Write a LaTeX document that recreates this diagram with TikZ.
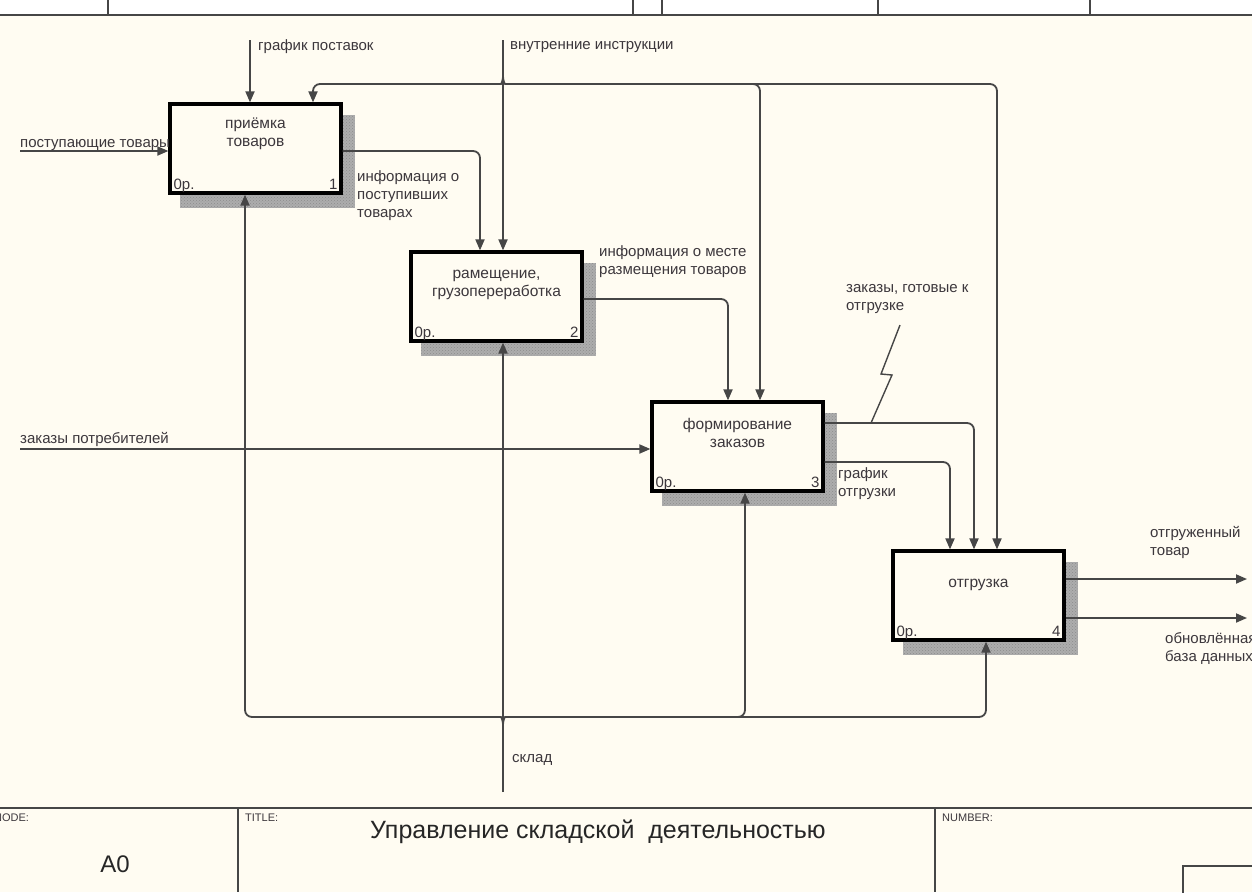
\documentclass[tikz,border=0pt]{standalone}
\usepackage{fontspec}
\setmainfont{Liberation Sans}
\usetikzlibrary{arrows.meta,calc,backgrounds,patterns}
\definecolor{bg}{RGB}{255,252,242}
\definecolor{ln}{RGB}{70,70,70}
\definecolor{tx}{RGB}{60,55,60}
\begin{document}
\begin{tikzpicture}[x=1pt,y=-1pt,
  box/.style={draw=black, line width=3.2pt, fill=bg, minimum width=171pt, minimum height=89pt, inner sep=0pt},
  con/.style={draw=ln, line width=1.8pt, rounded corners=7pt},
  arr/.style={con, -{Triangle[length=11pt,width=9pt]}},
  lbl/.style={font=\fontsize{15}{18}\selectfont, text=tx, inner sep=0pt, align=left},
  boxlbl/.style={font=\fontsize{15.5}{18}\selectfont, text=tx, inner sep=0pt, align=center},
  corner/.style={font=\fontsize{15}{16}\selectfont, text=tx, inner sep=0pt},
  small/.style={font=\fontsize{11}{12}\selectfont, text=tx, inner sep=0pt},
  frame/.style={draw=ln, line width=2pt}
]
\clip (0,0) rectangle (1252,892);
\useasboundingbox (0,0) rectangle (1252,892);

% boxes
\node[box] (b1) at (255.5,148.5) {};
\node[box] (b2) at (496.5,296.5) {};
\node[box] (b3) at (737.5,446.5) {};
\node[box] (b4) at (978.5,595.5) {};

\begin{pgfonlayer}{background}
  \fill[white] (0,0) rectangle (1252,892);
  \fill[bg] (0,15) rectangle (1252,892);
  \foreach \b in {b1,b2,b3,b4}{
    \fill[black!32] ($(\b.north west)+(12,13)$) rectangle ($(\b.south east)+(12,13)$);
    \fill[pattern=crosshatch dots, pattern color=black!45] ($(\b.north west)+(12,13)$) rectangle ($(\b.south east)+(12,13)$);
  }
\end{pgfonlayer}

% box texts
\node[boxlbl] (t1) at ($(b1.north)+(0,31)$) {приёмка\\товаров};
\node[boxlbl] (t2) at ($(b2.north)+(0,35)$) {рамещение,\\грузопереработка};
\node[boxlbl] (t3) at ($(b3.north)+(0,33)$) {формирование\\заказов};
\node[boxlbl] (t4) at ($(b4.north)+(0,36)$) {отгрузка};
\foreach \b/\n in {b1/1,b2/2,b3/3,b4/4}{
  \node[corner, anchor=base west] (z\b) at ($(\b.south west)+(5,-5)$) {0р.};
  \node[corner, anchor=base east] (n\b) at ($(\b.south east)+(-5,-5)$) {\n};
}

% frame top
\draw[frame] (0,15) -- (1252,15);
\foreach \x in {108,633,662,878,1090} \draw[frame] (\x,0) -- (\x,15);

% coordinates
\coordinate (in1) at (20,151);
\coordinate (gp) at (250,40);
\coordinate (vi) at (503,40);
\coordinate (jl) at (503,75);
\coordinate (c1) at (313,84);
\coordinate (c3) at (760,84);
\coordinate (c3s) at (745,84);
\coordinate (c4) at (997,84);
\coordinate (o1) at (480,151);
\coordinate (o2) at (728,299);
\coordinate (in3) at (20,449);
\coordinate (o3a) at (974,423);
\coordinate (o3b) at (950,462);
\coordinate (o4a) at (1247,579);
\coordinate (o4b) at (1247,618);
\coordinate (sk) at (503,792);
\coordinate (jb) at (503,726);
\coordinate (m1) at (245,717);
\coordinate (m3) at (745,717);
\coordinate (m3s) at (730,717);
\coordinate (m4) at (986,717);

% inputs
\draw[arr] (in1) -- (in1 -| b1.west);
\draw[arr] (in3) -- (in3 -| b3.west);

% controls
\draw[arr] (gp) -- (gp |- b1.north);
\draw[arr] (vi) -- (vi |- b2.north);
\draw[arr] (jl) .. controls (503,82) and (501,84) .. (494,84) -- (c1) -- (c1 |- b1.north);
\draw[arr] (jl) .. controls (503,82) and (505,84) .. (512,84) -- (c4) -- (c4 |- b4.north);
\draw[arr] (c3s) -- (c3) -- (c3 |- b3.north);

% outputs
\draw[arr] (in1 -| b1.east) -- (o1) -- (o1 |- b2.north);
\draw[arr] (o2 -| b2.east) -- (o2) -- (o2 |- b3.north);
\draw[arr] (o3a -| b3.east) -- (o3a) -- (o3a |- b4.north);
\draw[arr] (o3b -| b3.east) -- (o3b) -- (o3b |- b4.north);
\draw[arr] (o4a -| b4.east) -- (o4a);
\draw[arr] (o4b -| b4.east) -- (o4b);

% mechanisms
\draw[arr] (sk) -- (sk |- b2.south);
\draw[arr] (jb) .. controls (503,719) and (501,717) .. (494,717) -- (m1) -- (m1 |- b1.south);
\draw[arr] (jb) .. controls (503,719) and (505,717) .. (512,717) -- (m4) -- (m4 |- b4.south);
\draw[arr] (m3s) -- (m3) -- (m3 |- b3.south);

% squiggle
\coordinate (sq1) at (900,325);
\coordinate (sq2) at (881,374);
\coordinate (sq3) at (892,375);
\coordinate (sq4) at (871,423);
\draw[draw=ln, line width=1.4pt] (sq1) -- (sq2) -- (sq3) -- (sq4);

% labels
\node[lbl, anchor=base west] (l1) at (20,147) {поступающие товары};
\node[lbl, anchor=west] (l2) at (258,47) {график поставок};
\node[lbl, anchor=west] (l3) at (510,47) {внутренние инструкции};
\node[lbl, anchor=north west] (l4) at (357,170) {информация о\\поступивших\\товарах};
\node[lbl, anchor=north west] (l5) at (599,245) {информация о месте\\размещения товаров};
\node[lbl, anchor=north west] (l6) at (846,284) {заказы, готовые к\\отгрузке};
\node[lbl, anchor=north west] (l7) at (838,467) {график\\отгрузки};
\node[lbl, anchor=north west] (l8) at (1150,526) {отгруженный\\товар};
\node[lbl, anchor=north west] (l9) at (1165,632) {обновлённая\\база данных};
\node[lbl, anchor=base west] (l10) at (20,443) {заказы потребителей};
\node[lbl, anchor=west] (l11) at (512,760) {склад};

% title block
\draw[frame] (0,808) -- (1252,808);
\draw[frame] (238,808) -- (238,892);
\draw[frame] (935,808) -- (935,892);
\draw[frame] (1183,866) rectangle (1262,900);
\node[small, anchor=west] (tn) at (-6,818) {NODE:};
\node[small, anchor=west] (tt) at (245,818) {TITLE:};
\node[small, anchor=west] (tnum) at (942,818) {NUMBER:};
\node[font=\fontsize{24}{28}\selectfont, text=black!85, inner sep=0pt] (ta0) at (115,864) {A0};
\node[font=\fontsize{25}{30}\selectfont, text=black!85, inner sep=0pt, anchor=west] (ttl) at (370,832) {Управление складской\ \ деятельностью};
\end{tikzpicture}
\end{document}
